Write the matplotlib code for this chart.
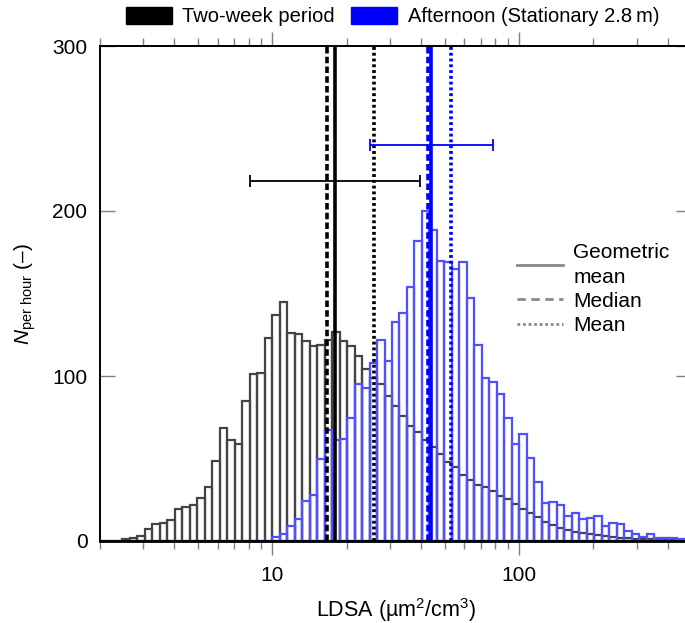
import numpy as np
import matplotlib
matplotlib.use("Agg")
import matplotlib.pyplot as plt
from matplotlib.lines import Line2D
from matplotlib.patches import Patch
from matplotlib.ticker import LogLocator, FuncFormatter, NullFormatter

plt.rcParams['font.family'] = ['Liberation Sans', 'DejaVu Sans']
plt.rcParams['mathtext.fontset'] = 'custom'
plt.rcParams['mathtext.rm'] = 'Liberation Sans'
plt.rcParams['mathtext.it'] = 'Liberation Sans:italic'
plt.rcParams['font.size'] = 15

# bin edges: 79 log-spaced bins from 2 to 500 um2/cm3
bin_edges = np.logspace(np.log10(2), np.log10(500), 80)

# N per hour in each bin, two-week period
two_week = [
    0, 0, 0.3, 1, 2, 3, 7, 10.5, 11, 13,
    19.6, 20.5, 22, 26, 33, 48.5, 68.7, 61, 58.6, 85,
    101.4, 101.6, 123, 137, 145, 126, 125.6, 121, 118, 119,
    122, 126.5, 121.5, 118, 112, 104, 99, 95, 88, 82,
    76, 70, 66, 61, 57, 53, 48, 45, 40, 37,
    34, 33, 30.5, 27.5, 25.5, 22.6, 19.5, 16.8, 14.3, 11.7,
    9.7, 7.7, 6.5, 5.5, 4.8, 4.0, 3.4, 3.0, 2.4, 2.0,
    1.7, 1.4, 1.2, 1.0, 0.8, 0.6, 0.5, 0.4, 0.3,
]
# N per hour in each bin, afternoon (stationary 2.8 m)
afternoon = [
    0, 0, 0, 0, 0, 0, 0, 0, 0, 0,
    0, 0, 0, 0, 0, 0, 0, 0, 0, 0,
    0, 0, 0, 2.4, 4, 9, 13.5, 24, 27.7, 49.5,
    67, 61, 62, 74.7, 95, 93, 108, 122, 109, 133,
    138, 154, 182, 200, 188.5, 170, 169, 165, 169, 147,
    119, 98.6, 96.6, 89, 74.3, 58.8, 64.6, 50.1, 36, 23.2,
    23.8, 21.8, 15.4, 17.2, 13.1, 13.7, 15.4, 9.3, 10.7, 10.1,
    6.1, 4.0, 2.6, 4.0, 1.6, 2.0, 1.6, 1.2, 1.0,
]

# statistics: geometric mean, median, mean, geometric-std range
tw_gmean, tw_median, tw_mean = 17.9, 16.6, 25.8
tw_range, tw_level = (8.1, 39.6), 218
af_gmean, af_median, af_mean = 43.9, 42.9, 53.0
af_range, af_level = (24.8, 78.3), 240

fig = plt.figure(figsize=(6.85, 6.23), dpi=100)
ax = fig.add_axes([100 / 685, 82 / 623, 591.5 / 685, 495 / 623])

left = bin_edges[:-1]
widths = np.diff(bin_edges)
ax.bar(left, two_week, width=widths, align='edge', fill=False,
       edgecolor='#444444', linewidth=1.6)
ax.bar(left, afternoon, width=widths, align='edge', fill=False,
       edgecolor='#5050ff', linewidth=1.6)

lw = 2.6
dash = (0, (1.8, 0.9))
dot = (0, (0.8, 0.8))
ax.axvline(tw_gmean, color='black', lw=lw)
ax.axvline(tw_median, color='black', lw=lw, linestyle=dash)
ax.axvline(tw_mean, color='black', lw=lw, linestyle=dot)
ax.axvline(af_gmean, color='#0000ff', lw=lw)
ax.axvline(af_median, color='#0000ff', lw=lw, linestyle=dash)
ax.axvline(af_mean, color='#0000ff', lw=lw, linestyle=dot)

ax.errorbar(tw_gmean, tw_level,
            xerr=[[tw_gmean - tw_range[0]], [tw_range[1] - tw_gmean]],
            fmt='none', ecolor='black', elinewidth=1.3, capsize=4.5, capthick=1.3)
ax.errorbar(af_gmean, af_level,
            xerr=[[af_gmean - af_range[0]], [af_range[1] - af_gmean]],
            fmt='none', ecolor='#0000ff', elinewidth=1.3, capsize=4.5, capthick=1.3)

ax.set_xscale('log')
ax.set_xlim(2, 500)
ax.set_ylim(0, 300)
ax.set_yticks([0, 100, 200, 300])
ax.xaxis.set_major_locator(LogLocator(base=10))
ax.xaxis.set_minor_locator(LogLocator(base=10, subs=np.arange(2, 10)))
ax.xaxis.set_major_formatter(FuncFormatter(lambda v, p: '%g' % v))
ax.xaxis.set_minor_formatter(NullFormatter())

ax.tick_params(axis='x', which='both', direction='out', top=True, bottom=True,
               color='#808080', labelcolor='black', pad=8)
ax.tick_params(axis='x', which='major', length=10, width=1)
ax.tick_params(axis='x', which='minor', length=6, width=1)
ax.tick_params(axis='y', which='both', direction='in', left=True, right=True,
               length=11, width=1, color='#808080', labelcolor='black', pad=9)

for s in ['left', 'top', 'right']:
    ax.spines[s].set_linewidth(1.4)
ax.spines['bottom'].set_linewidth(2)

ax.set_xlabel(r'LDSA (µm$^2$/cm$^3$)', labelpad=8, fontsize=15.5)
ax.set_ylabel(r'$N_{\rm per\ hour}$ (–)', labelpad=10)

stat_handles = [
    Line2D([], [], color='#888888', lw=2, label='Geometric\nmean'),
    Line2D([], [], color='#888888', lw=2, linestyle=(0, (3, 2)), label='Median'),
    Line2D([], [], color='#888888', lw=2, linestyle=(0, (1, 1)), label='Mean'),
]
leg = ax.legend(handles=stat_handles, loc='upper left', bbox_to_anchor=(0.705, 0.603),
                frameon=False, handlelength=2.2, handletextpad=0.5,
                labelspacing=0.25, borderpad=0, borderaxespad=0)
leg.get_texts()[0].set_linespacing(1.4)

group_handles = [
    Patch(facecolor='black', edgecolor='black', label='Two-week period'),
    Patch(facecolor='#0000ff', edgecolor='#0000ff', label='Afternoon (Stationary 2.8\u2009m)'),
]
fig.legend(handles=group_handles, loc='center', bbox_to_anchor=(0.573, 0.973),
           ncol=2, frameon=False, handlelength=2.3, handleheight=0.9,
           handletextpad=0.5, columnspacing=0.8, borderpad=0, fontsize=14.5)

fig.savefig('out.png', dpi=100)
